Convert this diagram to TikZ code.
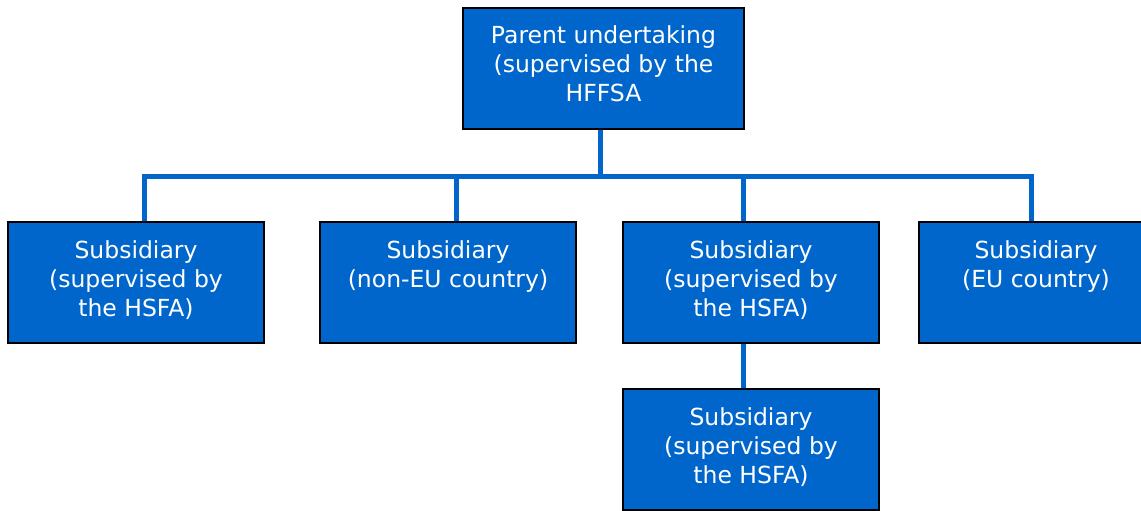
\documentclass[tikz,border=0pt]{standalone}
\usepackage{fontspec}
\setmainfont{DejaVu Sans}
\usetikzlibrary{positioning,backgrounds}
\definecolor{orgblue}{HTML}{0066CC}

\begin{document}
\begin{tikzpicture}
  [x=1pt,y=-1pt,
   orgN/.style={rectangle,draw=black,line width=1.5pt,fill=orgblue,text=white,
     minimum width=256pt,minimum height=121pt,inner sep=0pt,outer sep=0pt,
     font=\fontsize{23.5}{29}\selectfont,
     execute at begin node={\begin{minipage}[t][121pt][t]{232pt}\centering\rule{0pt}{36pt}},
     execute at end node={\end{minipage}}},
   link/.style={draw=orgblue,line width=5pt},
   node distance=46pt]

  \useasboundingbox (0,0) rectangle (1141,511);
  \clip (0,0) rectangle (1141,511);

  \node[orgN,minimum width=281pt] (parent) at (603.5,68.5) {Parent undertaking\\(supervised by the\\HFFSA};

  \node[orgN] (sub1) at (136,282.5) {Subsidiary\\(supervised by\\the HSFA)};
  \node[orgN] (sub2) [right=56pt of sub1] {Subsidiary\\(non-EU country)};
  \node[orgN] (sub3) [right=47pt of sub2] {Subsidiary\\(supervised by\\the HSFA)};
  \node[orgN,minimum width=234pt] (sub4) [right=40pt of sub3] {Subsidiary\\(EU country)};

  \node[orgN] (sub5) [below=of sub3] {Subsidiary\\(supervised by\\the HSFA)};

  \coordinate (bus) at (600,176);

  \begin{scope}[on background layer]
    \draw[link] ([xshift=-3.5pt]parent.south) -- (bus);
    \draw[link] ([xshift=8pt]sub1.north) |- ([xshift=-5pt]sub4.north |- bus) -- ([xshift=-5pt]sub4.north);
    \draw[link] ([xshift=8pt]sub2.north) -- ([xshift=8pt]sub2.north |- bus);
    \draw[link] ([xshift=-8pt]sub3.north) -- ([xshift=-8pt]sub3.north |- bus);
    \draw[link] ([xshift=-8pt]sub3.south) -- ([xshift=-8pt]sub5.north);
  \end{scope}

\end{tikzpicture}
\end{document}
